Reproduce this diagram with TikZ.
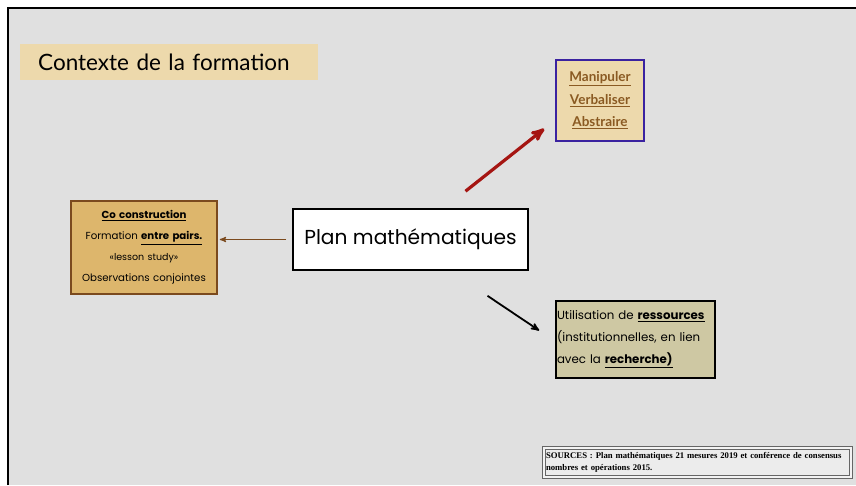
\documentclass[tikz,border=0pt]{standalone}
\usepackage{fontspec}
\setmainfont{Lato}
\newfontfamily\gothic{Poppins}
\newfontfamily\srcfont{Liberation Serif}
\usetikzlibrary{calc, arrows, positioning}

\definecolor{fond}{HTML}{E0E0E0}
\definecolor{beige}{HTML}{EDD9AC}
\definecolor{boxtan}{HTML}{DDB66C}
\definecolor{brun}{HTML}{7B4A1E}
\definecolor{bleu}{HTML}{3A22A0}
\definecolor{kaki}{HTML}{CEC8A3}
\definecolor{rouge}{HTML}{A51512}
\definecolor{lien}{HTML}{8A5A22}

\begin{document}
\begin{tikzpicture}[x=1pt, y=-1pt, >=stealth']
\tikzset{
  boite/.style={
    rectangle,
    draw=black, line width=1.6pt,
    inner sep=0pt,
    align=center},
  titre/.style={
    fill=beige,
    text width=262pt, inner xsep=18pt, inner ysep=0pt,
    minimum height=36pt,
    align=left,
    font=\fontsize{22.5}{26}\selectfont},
  fleche/.style={->, line width=1.2pt},
}
% fond de la diapo
\useasboundingbox (0,0) rectangle (856,485);
\fill[white] (0,0) rectangle (856,485);
\fill[fond] (8,8) rectangle (856,485);
\draw[line width=2.6pt] (8,485) -- (8,8) -- (856,8);

\node[titre, anchor=north west] (titre) at (20,44) {\mbox{Contexte de la formation}};

\node[boite, fill=white, minimum width=235pt, minimum height=61pt,
  font=\gothic\fontsize{20.2}{22}\selectfont] (plan) at (410.5,239.5) {Plan mathématiques};

\node[boite, draw=brun, fill=boxtan, text width=146pt, minimum height=93pt,
  font=\gothic\fontsize{10.2}{21}\selectfont] (pairs) at (144,247.5)
  {\underline{\textbf{Co construction}}\\
   Formation \underline{\textbf{entre pairs.}}\\
   {\fontsize{9.5}{21}\selectfont «lesson study»}\\
   Observations conjointes};

\node[boite, draw=bleu, fill=beige, text width=88pt, minimum height=81pt,
  text=lien, font=\bfseries\fontsize{13.5}{22.5}\selectfont] (gestes) at (600,100.5)
  {\underline{Manipuler}\\ \underline{Verbaliser}\\ \underline{Abstraire}};

\node[boite, fill=kaki, text width=157pt, inner xsep=1pt, minimum height=77pt,
  align=left, font=\gothic\fontsize{11.8}{22}\selectfont] (res) at (635.5,339.5)
  {\mbox{Utilisation de \underline{\textbf{ressources}}}\\
   \mbox{(institutionnelles, en lien}\\
   \mbox{avec la \underline{\textbf{recherche)}}}};

\node[boite, draw=black!60, double=fond!40!white, double distance=1.4pt, line width=0.9pt,
  fill=fond!60!white, text width=303pt, inner xsep=2pt, minimum height=29pt,
  align=left, font=\srcfont\bfseries\fontsize{8.7}{11.5}\selectfont] (sources) at (697.5,462.5)
  {SOURCES : Plan mathématiques 21 mesures 2019 et conférence de consensus\\
   nombres et opérations 2015.};

% liens
\draw[fleche, brun, shorten <=6pt, shorten >=2pt] (plan.west) -- (pairs.east |- plan.west);

\coordinate (r0) at ($(plan.north)+(55,-17)$);
\coordinate (r1) at ($(gestes.south west)+(-11,-13)$);
\draw[->, rouge, line width=3.2pt] (r0) -- (r1);

\coordinate (n0) at ($(plan.south)+(77,25)$);
\coordinate (n1) at ($(res.west)+(-16,-9)$);
\draw[fleche, line width=1.8pt] (n0) -- (n1);

\end{tikzpicture}
\end{document}
